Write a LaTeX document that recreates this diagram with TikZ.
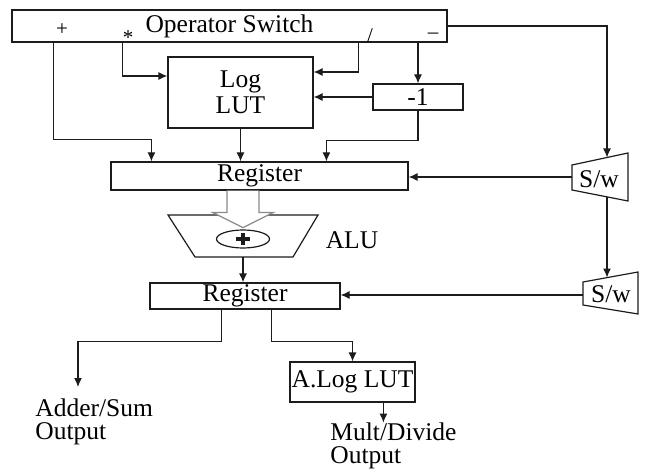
\documentclass[tikz,border=0pt]{standalone}
\usepackage{fontspec}
\setmainfont{Liberation Serif}
\usepackage{tikz}
\usetikzlibrary{calc,positioning,shapes.geometric,arrows.meta}
\definecolor{wireblack}{HTML}{1C1C1C}
\definecolor{hollowgray}{HTML}{8A8A8A}
\tikzset{
  blk/.style={draw=wireblack, line width=0.6pt, inner sep=0pt, align=center},
  wire/.style={draw=wireblack, line width=0.6pt, -{Latex[length=4.5pt,width=4pt]}},
  shp/.style={draw=wireblack, line width=0.6pt},
  opsign/.style={inner sep=0pt, anchor=base, font=\fontsize{10.5}{10.5}\selectfont},
  outtext/.style={inner sep=0pt, anchor=north west, align=left, font=\fontsize{12.75}{11.5}\selectfont}
}

\begin{document}
\begin{tikzpicture}[x=0.5pt, y=-0.5pt, font=\fontsize{12.75}{13}\selectfont]
  \useasboundingbox (0,0) rectangle (647,470);

  \node[blk, minimum width=217.5pt, minimum height=16pt] (ops) at (229.5,26) {Operator Switch};
  \node[opsign] (opadd) at (62,36) {+};
  \node[opsign] (opmul) at (128,45) {*};
  \node[opsign] (opdiv) at (370,43) {/};
  \node[opsign] (opsub) at (433,39) {--};

  \node[blk, minimum width=72.5pt, minimum height=35.5pt] (log) at (240.5,92.5) {Log\\LUT};
  \node[blk, minimum width=45pt, minimum height=13pt] (neg) at (418,97) {-1};
  \node[blk, minimum width=148.5pt, minimum height=14pt] (reg1) at (259.5,176) {Register};
  \node[blk, minimum width=95pt, minimum height=13pt] (reg2) at (245,296) {Register};
  \node[blk, minimum width=62.5pt, minimum height=20pt] (alog) at (352.5,382) {A.Log LUT};

  % ALU
  \draw[shp] (168,215) -- (318,215) -- (293,257) -- (195,257) -- cycle;
  \coordinate (alubot) at (243,257);
  \node[shp, ellipse, minimum width=26.5pt, minimum height=9pt, inner sep=0pt] (adder) at (243,239) {};
  \draw[wireblack, line width=2.2pt] (adder.center) +(-7,0) -- +(7,0) (adder.center) +(0,-6) -- +(0,6);
  \node (alulabel) at (352,240) {ALU};
  \draw[hollowgray, fill=white, line width=0.6pt] ([xshift=-16.25pt]reg1.south) -- ++(0,22) -- ++(-14,0) -- ++(30,15) -- ++(30,-15) -- ++(-14,0) -- ++(0,-22);

  % S/w switches
  \draw[shp] (572,165) -- (628,153) -- (628,201) -- (572,190) -- cycle;
  \node (sw1) at (599,179) {S/w};
  \draw[shp] (583,282) -- (638,272) -- (638,314) -- (583,305) -- cycle;
  \node (sw2) at (611,294) {S/w};
  \coordinate (sw1in) at (607,157.5);
  \coordinate (sw1out) at (572,177);
  \coordinate (sw1bot) at (607,197);
  \coordinate (sw2in) at (607,277.5);
  \coordinate (sw2out) at (583,295);

  % outputs
  \node[outtext] (sumout) at (35,398) {Adder/Sum\\Output};
  \node[outtext] (mulout) at (330,422) {Mult/Divide\\Output};
  \coordinate (sumin) at (78,387);

  % wiring
  \draw[wire] ([xshift=21pt]ops.south west) |- ([xshift=20.5pt,yshift=11pt]reg1.north west) -- ([xshift=20.5pt]reg1.north west);
  \draw[wire] ([xshift=55.5pt]ops.south west) |- ([yshift=8.25pt]log.west);
  \draw[wire] ([xshift=173.5pt]ops.south west) |- ([yshift=10.25pt]log.east);
  \draw[wire] (ops.south -| neg.north) -- (neg.north);
  \draw[wire] (neg.west) -- (neg.west -| log.east);
  \draw[wire] (neg.south) |- ([xshift=108pt,yshift=10.5pt]reg1.north west) -- ([xshift=108pt]reg1.north west);
  \draw[wire] (log.south) -- (log.south |- reg1.north);
  \draw[wire] (ops.east) -| (sw1in);
  \draw[wire] (sw1out) -- (sw1out -| reg1.east);
  \draw[wire] (sw1bot) -- (sw2in);
  \draw[wire] (sw2out) -- (sw2out -| reg2.east);
  \draw[wire] (alubot) -- (alubot |- reg2.north);
  \draw[wire] ([xshift=36pt]reg2.south west) -- ++(0,32) -| (sumin);
  \draw[wire] ([xshift=61pt]reg2.south west) -- ++(0,32) -| (alog.north);
  \draw[wire] ([xshift=47pt]alog.south west) -- ++(0,20);
\end{tikzpicture}
\end{document}
